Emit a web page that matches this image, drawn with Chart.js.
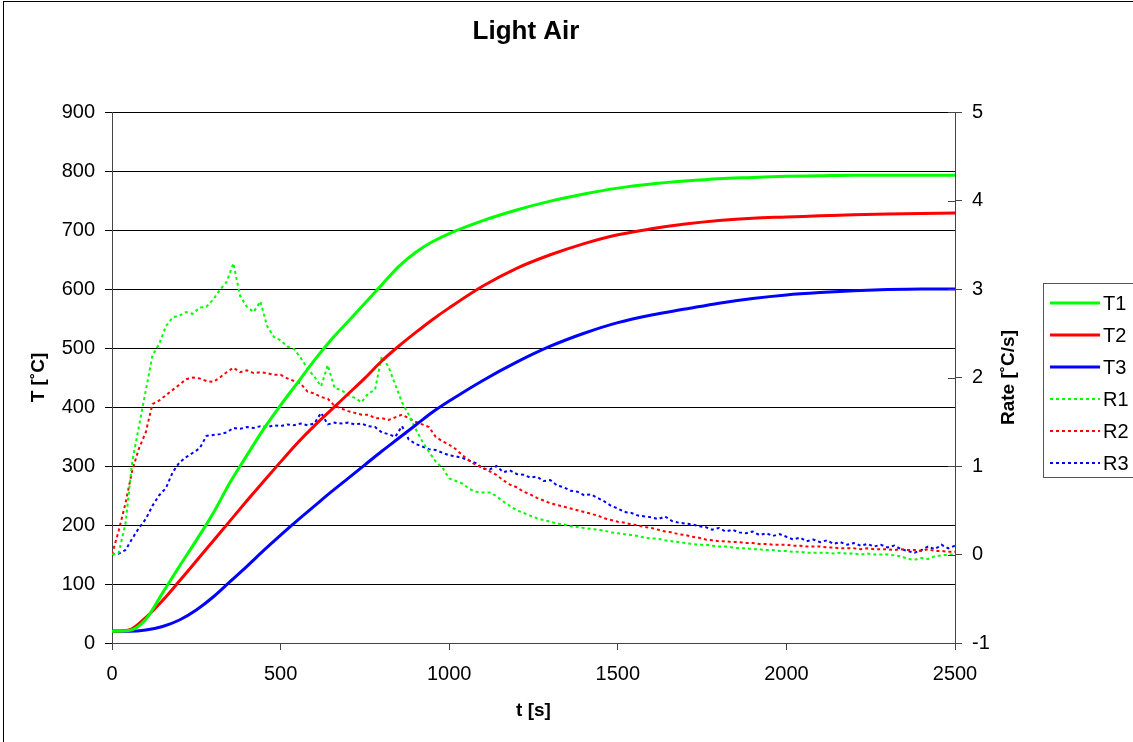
<!DOCTYPE html>
<html><head><meta charset="utf-8">
<script src="https://cdn.jsdelivr.net/npm/chart.js@4/dist/chart.umd.min.js"></script>
<style>html,body{margin:0;padding:0;background:#fff;overflow:hidden}</style>
</head><body>
<canvas id="c" width="1133" height="742"></canvas>
<script>
// ---- data ----
const chartTitle = 'Light Air';
const xTitle = 't [s]';
const yTitle = 'T [˚C]';
const y2Title = 'Rate [˚C/s]';
const seriesNames = ['T1','T2','T3','R1','R2','R3'];
const seriesColors = ['#00ff00','#ff0000','#0000ff','#00ff00','#ff0000','#0000ff'];

const tTime = [0,50,100,150,200,250,300,350,400,450,500,550,600,650,700,750,800,850,900,950,1000,1100,1200,1300,1400,1500,1600,1700,1800,1900,2000,2100,2200,2300,2400,2500];
const T1 = [20,21,40,85,130,174,220,272,318,363,403,441,479,514,545,576,607,638,662,680,694,716,734,749,761,771,778,783,787,789,791,792,793,793,793,793];
const T2 = [20,22,43,72,105,139,173,207,241,274,307,339,368,395,422,449,478,503,526,548,568,605,635,658,677,692,702,710,716,720,722,724,726,727,728,729];
const T3 = [20,20,22,28,39,56,78,104,130,157,183,208,232,256,279,302,325,347,369,391,410,445,476,503,525,543,556,566,576,584,590,594,597,599,600,600];

const rTime = [0,20,40,60,80,100,120,140,160,180,200,220,240,260,280,300,320,340,360,380,400,420,440,460,480,500,520,540,560,580,600,620,640,660,680,700,720,740,760,780,800,820,840,860,880,900,920,940,960,980,1000,1020,1040,1060,1080,1100,1120,1140,1160,1180,1200,1220,1240,1260,1280,1300,1320,1340,1360,1380,1400,1420,1440,1460,1480,1500,1520,1540,1560,1580,1600,1620,1640,1660,1680,1700,1720,1740,1760,1780,1800,1820,1840,1860,1880,1900,1920,1940,1960,1980,2000,2020,2040,2060,2080,2100,2120,2140,2160,2180,2200,2220,2240,2260,2280,2300,2320,2340,2360,2380,2400,2420,2440,2460,2480,2500];
const R1 = [0.00,0.02,0.35,1.05,1.45,1.85,2.25,2.38,2.58,2.68,2.70,2.74,2.72,2.79,2.80,2.88,2.99,3.08,3.29,2.92,2.80,2.74,2.86,2.58,2.46,2.42,2.35,2.32,2.22,2.10,2.01,1.90,2.14,1.88,1.86,1.80,1.77,1.72,1.82,1.86,2.24,2.12,1.92,1.72,1.58,1.42,1.28,1.16,1.05,0.98,0.86,0.83,0.80,0.74,0.71,0.70,0.70,0.66,0.60,0.55,0.50,0.47,0.44,0.41,0.39,0.37,0.35,0.34,0.32,0.31,0.30,0.29,0.28,0.27,0.25,0.24,0.23,0.22,0.21,0.19,0.18,0.18,0.16,0.15,0.14,0.13,0.12,0.11,0.11,0.10,0.09,0.09,0.08,0.07,0.07,0.06,0.06,0.05,0.05,0.04,0.04,0.03,0.03,0.02,0.02,0.02,0.02,0.01,0.02,0.01,0.01,0.00,0.01,0.00,0.00,0.00,-0.01,-0.02,-0.05,-0.06,-0.04,-0.05,-0.02,-0.01,0.00,0.00];
const R2 = [0.00,0.27,0.58,0.95,1.20,1.38,1.70,1.74,1.80,1.86,1.92,1.98,2.00,1.99,1.96,1.95,2.00,2.06,2.11,2.06,2.08,2.05,2.06,2.05,2.03,2.03,1.99,1.96,1.93,1.84,1.82,1.78,1.76,1.68,1.65,1.62,1.60,1.58,1.58,1.54,1.54,1.52,1.55,1.58,1.54,1.50,1.47,1.44,1.33,1.28,1.24,1.19,1.12,1.06,1.01,0.98,0.94,0.90,0.84,0.79,0.76,0.71,0.68,0.64,0.61,0.58,0.56,0.54,0.52,0.50,0.48,0.46,0.44,0.41,0.39,0.37,0.36,0.34,0.33,0.31,0.30,0.28,0.26,0.25,0.23,0.22,0.20,0.19,0.17,0.16,0.15,0.15,0.14,0.14,0.13,0.13,0.12,0.12,0.11,0.11,0.11,0.10,0.10,0.09,0.09,0.09,0.08,0.08,0.07,0.07,0.07,0.06,0.07,0.06,0.06,0.06,0.05,0.06,0.05,0.05,0.04,0.06,0.04,0.04,0.03,0.03];
const R3 = [0.00,0.01,0.05,0.18,0.30,0.40,0.55,0.67,0.75,0.93,1.04,1.10,1.15,1.20,1.34,1.35,1.36,1.38,1.43,1.42,1.44,1.43,1.45,1.44,1.46,1.45,1.47,1.46,1.48,1.46,1.48,1.60,1.47,1.49,1.48,1.49,1.47,1.48,1.45,1.44,1.38,1.36,1.33,1.45,1.30,1.25,1.22,1.19,1.18,1.15,1.12,1.11,1.09,1.06,1.03,0.97,0.96,1.00,0.93,0.95,0.91,0.90,0.87,0.88,0.83,0.84,0.78,0.76,0.72,0.71,0.67,0.68,0.64,0.60,0.55,0.52,0.48,0.47,0.44,0.43,0.42,0.40,0.43,0.38,0.36,0.35,0.34,0.32,0.31,0.28,0.30,0.26,0.28,0.25,0.24,0.26,0.22,0.24,0.21,0.23,0.20,0.17,0.19,0.15,0.17,0.14,0.16,0.12,0.14,0.11,0.13,0.10,0.12,0.09,0.11,0.08,0.10,0.06,0.04,0.02,0.05,0.09,0.06,0.11,0.07,0.10];

const FONT = "'Liberation Sans', Arial, sans-serif";

function pts(xs, ys){ return xs.map((x,i)=>({x:x, y:ys[i]})); }

const datasets = [
  {label:seriesNames[0], data:pts(tTime,T1), yAxisID:'y', borderColor:seriesColors[0], borderWidth:3, cubicInterpolationMode:'monotone'},
  {label:seriesNames[1], data:pts(tTime,T2), yAxisID:'y', borderColor:seriesColors[1], borderWidth:3, cubicInterpolationMode:'monotone'},
  {label:seriesNames[2], data:pts(tTime,T3), yAxisID:'y', borderColor:seriesColors[2], borderWidth:3, cubicInterpolationMode:'monotone'},
  {label:seriesNames[3], data:pts(rTime,R1), yAxisID:'y2', borderColor:seriesColors[3], borderWidth:2, borderDash:[3,3]},
  {label:seriesNames[4], data:pts(rTime,R2), yAxisID:'y2', borderColor:seriesColors[4], borderWidth:2, borderDash:[3,3]},
  {label:seriesNames[5], data:pts(rTime,R3), yAxisID:'y2', borderColor:seriesColors[5], borderWidth:2, borderDash:[3,3]}
];
datasets.forEach(d=>{d.pointRadius=0; d.fill=false; d.backgroundColor=d.borderColor;});

const deco = {
  id:'deco',
  afterDraw(chart){
    const ctx = chart.ctx;
    ctx.save();
    // outer frame
    ctx.strokeStyle = '#000'; ctx.lineWidth = 1;
    ctx.strokeRect(3.5, 1.5, 1300, 900);
    // title
    ctx.fillStyle = '#000';
    ctx.font = "bold 26px " + FONT;
    ctx.textAlign = 'center'; ctx.textBaseline = 'middle';
    ctx.fillText(chartTitle, 526, 32);
    // right axis title (reads bottom to top)
    const ca = chart.chartArea;
    ctx.save();
    ctx.translate(1009, (ca.top + ca.bottom) / 2);
    ctx.rotate(-Math.PI / 2);
    ctx.font = "bold 19px " + FONT;
    ctx.textAlign = 'center'; ctx.textBaseline = 'middle';
    ctx.fillText(y2Title, 0, 0);
    ctx.restore();
    // inward part of right-axis ticks
    const y2 = chart.scales.y2;
    ctx.strokeStyle = '#444'; ctx.lineWidth = 1;
    y2.ticks.forEach(t=>{
      const py = Math.round(y2.getPixelForValue(t.value)) + 0.5;
      ctx.beginPath(); ctx.moveTo(ca.right - 7, py); ctx.lineTo(ca.right, py); ctx.stroke();
    });
    // legend
    const lx = 1043.5, ly = 283.5, lw = 120, lh = 194;
    ctx.fillStyle = '#fff'; ctx.fillRect(lx, ly, lw, lh);
    ctx.strokeStyle = '#555'; ctx.strokeRect(lx, ly, lw, lh);
    const rows = [303, 335, 367, 399, 431, 463];
    chart.data.datasets.forEach((d,i)=>{
      const yy = rows[i];
      ctx.strokeStyle = d.borderColor; ctx.lineWidth = d.borderWidth;
      ctx.setLineDash(d.borderDash || []);
      ctx.beginPath(); ctx.moveTo(1050, yy); ctx.lineTo(1100, yy); ctx.stroke();
      ctx.setLineDash([]);
      ctx.fillStyle = '#000'; ctx.font = "20px " + FONT;
      ctx.textAlign = 'left'; ctx.textBaseline = 'middle';
      ctx.fillText(d.label, 1103, yy + 1);
    });
    ctx.restore();
  }
};

const tickFont = {family: FONT, size: 20};
const titleFont = {family: FONT, size: 19, weight: 'bold'};
const plain = v => String(v);

new Chart(document.getElementById('c'), {
  type:'line',
  data:{datasets: datasets},
  options:{
    responsive:false, animation:false, devicePixelRatio:1,
    layout:{padding:{top:112, left:0, right:0, bottom:0}},
    plugins:{legend:{display:false}, title:{display:false}, tooltip:{enabled:false}},
    elements:{line:{tension:0}},
    scales:{
      x:{type:'linear', min:0, max:2500,
         ticks:{stepSize:500, font:tickFont, color:'#000', padding:12, maxRotation:0, callback:plain},
         grid:{drawOnChartArea:false, color:'#444', tickLength:7},
         border:{color:'#444', width:1},
         title:{display:true, text:xTitle, font:titleFont, color:'#000', padding:{top:0, bottom:20}},
         afterFit(s){ s.height = 99; }},
      y:{type:'linear', position:'left', min:0, max:900,
         ticks:{stepSize:100, font:tickFont, color:'#000', padding:10, callback:plain},
         grid:{color:'#000', tickLength:7},
         border:{color:'#444', width:1},
         title:{display:true, text:yTitle, font:titleFont, color:'#000', padding:{top:27}},
         afterFit(s){ s.width = 112; }},
      y2:{type:'linear', position:'right', min:-1, max:5,
         ticks:{stepSize:1, font:tickFont, color:'#000', padding:10, callback:plain},
         grid:{drawOnChartArea:false, color:'#444', tickLength:7},
         border:{color:'#444', width:1},
         title:{display:false},
         afterFit(s){ s.width = 178; }}
    }
  },
  plugins:[deco]
});
</script>
</body></html>
